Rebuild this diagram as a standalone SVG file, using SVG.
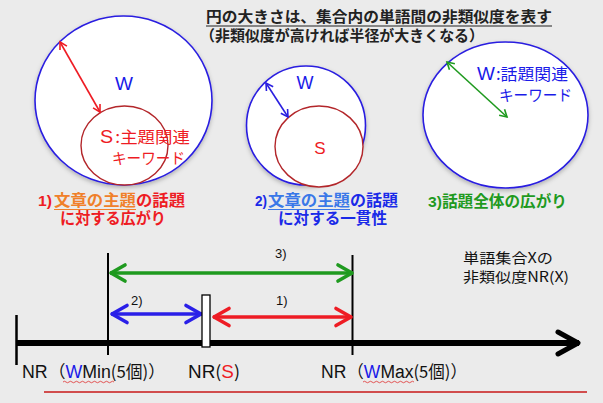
<svg xmlns="http://www.w3.org/2000/svg" width="603" height="403" viewBox="0 0 603 403">
<defs>
<style>
text{font-family:"Liberation Sans","Noto Sans CJK JP",sans-serif}
.jp{font-family:"Noto Sans CJK JP","Liberation Sans",sans-serif}
.wc{fill:#fff;stroke:#2a1fe0;stroke-width:1.6}
.sc{fill:#fff;stroke:#b3262a;stroke-width:1.4}
.cap{font-size:15.5px;font-weight:bold}
</style>
<filter id="sh" x="-10%" y="-10%" width="120%" height="125%">
<feDropShadow dx="0" dy="2" stdDeviation="2" flood-color="#000" flood-opacity="0.25"/>
</filter>
<marker id="mr" markerUnits="userSpaceOnUse" markerWidth="20" markerHeight="20" viewBox="-10 -10 20 20" refX="0" refY="0" orient="auto-start-reverse">
<path d="M-7-4 L0 0 L-7 4" fill="none" stroke="#ee1c24" stroke-width="1.6"/>
</marker>
<marker id="mb" markerUnits="userSpaceOnUse" markerWidth="20" markerHeight="20" viewBox="-10 -10 20 20" refX="0" refY="0" orient="auto-start-reverse">
<path d="M-7-4 L0 0 L-7 4" fill="none" stroke="#2a1fe0" stroke-width="1.6"/>
</marker>
<marker id="mg" markerUnits="userSpaceOnUse" markerWidth="20" markerHeight="20" viewBox="-10 -10 20 20" refX="0" refY="0" orient="auto-start-reverse">
<path d="M-7-4 L0 0 L-7 4" fill="none" stroke="#1f9a1f" stroke-width="1.6"/>
</marker>
<marker id="Lg" markerUnits="userSpaceOnUse" markerWidth="40" markerHeight="40" viewBox="-20 -20 40 40" refX="0" refY="0" orient="auto-start-reverse">
<path d="M-15-8 L-1 0 L-15 8" fill="none" stroke="#1f9a1f" stroke-width="3.6" stroke-linecap="round" stroke-linejoin="round"/>
</marker>
<marker id="Lb" markerUnits="userSpaceOnUse" markerWidth="40" markerHeight="40" viewBox="-20 -20 40 40" refX="0" refY="0" orient="auto-start-reverse">
<path d="M-16-8.5 L-1 0 L-16 8.5" fill="none" stroke="#2a1fe8" stroke-width="3.6" stroke-linecap="round" stroke-linejoin="round"/>
</marker>
<marker id="Lr" markerUnits="userSpaceOnUse" markerWidth="40" markerHeight="40" viewBox="-20 -20 40 40" refX="0" refY="0" orient="auto-start-reverse">
<path d="M-16-8.5 L-1 0 L-16 8.5" fill="none" stroke="#ee1c24" stroke-width="3.6" stroke-linecap="round" stroke-linejoin="round"/>
</marker>
<marker id="Lk" markerUnits="userSpaceOnUse" markerWidth="50" markerHeight="50" viewBox="-25 -25 50 50" refX="0" refY="0" orient="auto">
<path d="M-21-11 L-1 0 L-21 11" fill="none" stroke="#000" stroke-width="5" stroke-linecap="round" stroke-linejoin="round"/>
</marker>
</defs>
<rect x="0" y="0" width="603" height="403" fill="#ebebeb"/>

<g id="title">
<text class="jp" x="206" y="21.5" font-size="15" font-weight="bold" fill="#222" textLength="346" lengthAdjust="spacingAndGlyphs">円の大きさは、集合内の単語間の非類似度を表す</text>
<line x1="206" y1="26" x2="552" y2="26" stroke="#222" stroke-width="1.2"/>
<text class="jp" x="200" y="40.5" font-size="15" font-weight="bold" fill="#222" textLength="284" lengthAdjust="spacingAndGlyphs">（非類似度が高ければ半径が大きくなる）</text>
</g>

<g id="node1">
<ellipse cx="123.5" cy="100.5" rx="88.5" ry="84.5" class="wc" filter="url(#sh)"/>
<ellipse cx="124.5" cy="145.5" rx="43.5" ry="39.5" class="sc"/>
<text x="124" y="90" font-size="19" fill="#1a1ae8" text-anchor="middle">W</text>
<text x="100" y="143" font-size="18" fill="#ee1c24" textLength="90" lengthAdjust="spacingAndGlyphs">S<tspan class="jp" font-size="16" dx="2">:主題関連</tspan></text>
<text class="jp" x="112" y="164" font-size="15.5" fill="#ee1c24" textLength="73" lengthAdjust="spacingAndGlyphs">キーワード</text>
</g>

<g id="node2">
<circle cx="306" cy="125.5" r="59.5" class="wc" filter="url(#sh)"/>
<ellipse cx="319" cy="146.5" rx="44" ry="40.5" class="sc"/>
<text x="305" y="89" font-size="18" fill="#1a1ae8" text-anchor="middle">W</text>
<text x="320" y="154" font-size="17" fill="#ee1c24" text-anchor="middle">S</text>
</g>

<g id="node3">
<ellipse cx="505.5" cy="115" rx="82.5" ry="73" class="wc" filter="url(#sh)"/>
<text x="477" y="80" font-size="18" fill="#1a1ae8" textLength="91" lengthAdjust="spacingAndGlyphs">W<tspan class="jp" font-size="16" dx="1">:話題関連</tspan></text>
<text class="jp" x="499" y="101" font-size="15.5" fill="#1a1ae8" textLength="73" lengthAdjust="spacingAndGlyphs">キーワード</text>
</g>

<g id="captions" class="jp">
<text class="cap" x="38" y="206" fill="#ee1c24" textLength="14" lengthAdjust="spacingAndGlyphs">1)</text>
<text class="cap" x="54" y="206" fill="#f0802a" textLength="82" lengthAdjust="spacingAndGlyphs">文章の主題</text>
<line x1="54" y1="209.5" x2="136" y2="209.5" stroke="#f0802a" stroke-width="1.2"/>
<text class="cap" x="136" y="206" fill="#ee1c24" textLength="49" lengthAdjust="spacingAndGlyphs">の話題</text>
<text class="cap" x="60" y="224" fill="#ee1c24" textLength="106" lengthAdjust="spacingAndGlyphs">に対する広がり</text>

<text class="cap" x="255" y="206" fill="#1a2ae8" textLength="12" lengthAdjust="spacingAndGlyphs">2)</text>
<text class="cap" x="268" y="206" fill="#3a78e8" textLength="82" lengthAdjust="spacingAndGlyphs">文章の主題</text>
<line x1="268" y1="209.5" x2="350" y2="209.5" stroke="#3a78e8" stroke-width="1.2"/>
<text class="cap" x="350" y="206" fill="#1a2ae8" textLength="48" lengthAdjust="spacingAndGlyphs">の話題</text>
<text class="cap" x="278" y="224" fill="#1a2ae8" textLength="109" lengthAdjust="spacingAndGlyphs">に対する一貫性</text>

<text class="cap" x="428" y="207" fill="#1f9a1f" textLength="139" lengthAdjust="spacingAndGlyphs">3)話題全体の広がり</text>
</g>

<g id="connectors">
<line x1="60" y1="42" x2="100" y2="112" stroke="#ee1c24" stroke-width="1.6" marker-start="url(#mr)" marker-end="url(#mr)"/>
<line x1="266" y1="83" x2="288" y2="117" stroke="#2a1fe0" stroke-width="1.6" marker-start="url(#mb)" marker-end="url(#mb)"/>
<line x1="447" y1="62" x2="507" y2="117" stroke="#1f9a1f" stroke-width="1.6" marker-start="url(#mg)" marker-end="url(#mg)"/>

<line x1="16" y1="343" x2="579" y2="343" stroke="#000" stroke-width="6" marker-end="url(#Lk)"/>
<line x1="16.5" y1="315" x2="16.5" y2="365" stroke="#000" stroke-width="2.5"/>
<line x1="108" y1="253" x2="108" y2="355" stroke="#000" stroke-width="2"/>
<line x1="352.5" y1="255" x2="352.5" y2="355" stroke="#000" stroke-width="2"/>

<line x1="110" y1="273" x2="353" y2="273" stroke="#1f9a1f" stroke-width="3.6" marker-start="url(#Lg)" marker-end="url(#Lg)"/>
<line x1="111" y1="314" x2="202" y2="314" stroke="#2a1fe8" stroke-width="3.6" marker-start="url(#Lb)" marker-end="url(#Lb)"/>
<line x1="213" y1="317" x2="352" y2="317" stroke="#ee1c24" stroke-width="3.6" marker-start="url(#Lr)" marker-end="url(#Lr)"/>
<rect x="202" y="295" width="8" height="52" fill="#fff" stroke="#000" stroke-width="1.3"/>
</g>

<g id="labels">
<text x="275" y="258" font-size="13" fill="#111">3)</text>
<text x="131" y="305" font-size="13" fill="#111">2)</text>
<text x="276" y="305" font-size="13" fill="#111">1)</text>

<text class="jp" x="463" y="263" font-size="14" fill="#111" textLength="90" lengthAdjust="spacingAndGlyphs">単語集合Xの</text>
<text class="jp" x="463" y="282" font-size="14" fill="#111" textLength="106" lengthAdjust="spacingAndGlyphs">非類似度NR(X)</text>

<text x="22" y="378" font-size="18" fill="#111" textLength="143" lengthAdjust="spacingAndGlyphs">NR<tspan class="jp" font-size="17" dx="1">（</tspan><tspan fill="#1a1ae8">W</tspan>Min<tspan class="jp" font-size="17">(5個)）</tspan></text>
<text x="188" y="378" font-size="18" fill="#111" textLength="52" lengthAdjust="spacingAndGlyphs">NR<tspan class="jp" font-size="17">(</tspan><tspan fill="#ee1c24">S</tspan><tspan class="jp" font-size="17">)</tspan></text>
<text x="321" y="378" font-size="18" fill="#111" textLength="146" lengthAdjust="spacingAndGlyphs">NR<tspan class="jp" font-size="17" dx="1">（</tspan><tspan fill="#1a1ae8">W</tspan>Max<tspan class="jp" font-size="17">(5個)）</tspan></text>
<path d="M63 382 q1.5-1.5 3 0 t3 0 t3 0 t3 0 t3 0 t3 0 t3 0 t3 0 t3 0 t3 0 t3 0 t3 0 t3 0 t3 0 t3 0 t3 0 t3 0" fill="none" stroke="#e03030" stroke-width="0.8"/>
<path d="M363 382 q1.5-1.5 3 0 t3 0 t3 0 t3 0 t3 0 t3 0 t3 0 t3 0 t3 0 t3 0 t3 0 t3 0 t3 0 t3 0 t3 0 t3 0 t3 0" fill="none" stroke="#e03030" stroke-width="0.8"/>
<line x1="44" y1="392" x2="587" y2="392" stroke="#c81818" stroke-width="1.5"/>
</g>
</svg>
